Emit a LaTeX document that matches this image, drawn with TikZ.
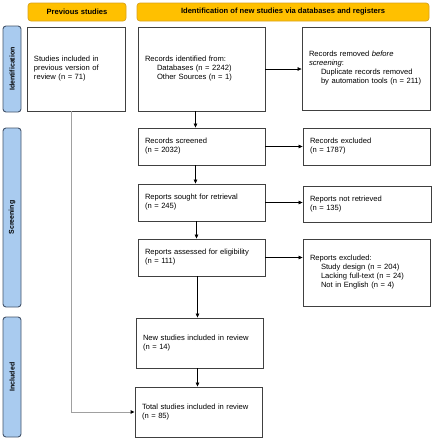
\documentclass[tikz,border=0pt]{standalone}
\usepackage{fontspec}
\setmainfont{Liberation Sans}
\usetikzlibrary{arrows.meta}

\definecolor{hdryellow}{HTML}{FFC000}
\definecolor{hdrline}{HTML}{D9A21B}
\definecolor{barblue}{HTML}{A9CBEF}
\definecolor{barline}{HTML}{44546A}
\definecolor{boxline}{HTML}{404040}
\definecolor{prevline}{HTML}{A0A0A0}

\tikzset{
    box/.style={draw=boxline, line width=0.9pt, fill=white, inner xsep=7pt,
        align=left, font=\fontsize{7.6}{9}\selectfont},
    header/.style={draw=hdrline, fill=hdryellow, rounded corners=3pt, line width=0.7pt,
        minimum height=18pt, font=\bfseries\fontsize{7.6}{9}\selectfont},
    phase/.style={draw=barline, fill=barblue, rounded corners=3pt, line width=0.9pt,
        minimum height=18pt, rotate=90, font=\bfseries\fontsize{7}{8}\selectfont},
    arr/.style={-{Triangle[length=4pt,width=3.6pt]}, line width=0.6pt, black},
}

\begin{document}
\begin{tikzpicture}[x=1pt, y=-1pt]
    %\draw[lightgray] (0, 0) grid[step=20] (436, 440);
    \useasboundingbox (0, 0) rectangle (436, 440);

    \node[header, minimum width=98pt] (hprev) at (77, 12) {Previous studies};
    \node[header, minimum width=292pt] (hnew) at (283, 12) {Identification of new studies via databases and registers};

    \node[phase, minimum width=86pt] (pident) at (12, 69) {Identification};
    \node[phase, minimum width=179pt] (pscreen) at (12, 217.5) {Screening};
    \node[phase, minimum width=120pt] (pincl) at (12, 377) {Included};

    \node[box, text width=84pt, minimum height=84pt] (prev) at (76, 69)
        {Studies included in\\previous version of\\review (n = 71)};
    \node[box, text width=113pt, minimum height=84pt] (ident) at (201.5, 69)
        {Records identified from:\\\hspace*{12pt}Databases (n = 2242)\\\hspace*{12pt}Other Sources (n = 1)};
    \node[box, text width=114pt, minimum height=83pt] (removed) at (366, 68.5)
        {Records removed \textit{before}\\\textit{screening}:\\\hspace*{12pt}Duplicate records removed\\\hspace*{12pt}by automation tools (n = 211)};
    \node[box, text width=113pt, minimum height=37pt] (screened) at (201.5, 146.5)
        {Records screened\\(n = 2032)};
    \node[box, text width=113pt, minimum height=37pt] (excluded) at (366.5, 146.5)
        {Records excluded\\(n = 1787)};
    \node[box, text width=113pt, minimum height=37pt] (sought) at (201.5, 202.5)
        {Reports sought for retrieval\\(n = 245)};
    \node[box, text width=114pt, minimum height=36pt] (notret) at (367, 204)
        {Reports not retrieved\\(n = 135)};
    \node[box, text width=113pt, minimum height=37pt] (assessed) at (201.5, 257.5)
        {Reports assessed for eligibility\\(n = 111)};
    \node[box, text width=113pt, minimum height=67pt] (repexcl) at (366.5, 272.5)
        {Reports excluded:\\\hspace*{11pt}Study design (n = 204)\\\hspace*{11pt}Lacking full-text (n = 24)\\\hspace*{11pt}Not in English (n = 4)};
    \node[box, text width=113pt, minimum height=50pt] (newinc) at (199.5, 343)
        {New studies included in review\\(n = 14)};
    \node[box, text width=113pt, minimum height=50pt] (total) at (198.5, 412)
        {Total studies included in review\\(n = 85)};

    \draw[arr] ([xshift=-6pt]ident.south) -- ([xshift=-6pt]ident.south |- screened.north);
    \draw[arr] ([xshift=-6pt]screened.south) -- ([xshift=-6pt]screened.south |- sought.north);
    \draw[arr] ([xshift=-5pt]sought.south) -- ([xshift=-5pt]sought.south |- assessed.north);
    \draw[arr] ([xshift=-4pt]assessed.south) -- ([xshift=-4pt]assessed.south |- newinc.north);
    \draw[arr] ([xshift=-2pt]newinc.south) -- ([xshift=-2pt]newinc.south |- total.north);
    \draw[arr] (ident.east) -- (ident.east -| removed.west);
    \draw[arr] (screened.east) -- (screened.east -| excluded.west);
    \draw[arr] (sought.east) -- (sought.east -| notret.west);
    \draw[arr] (assessed.east) -- (assessed.east -| repexcl.west);
    \draw[arr, draw=prevline, line width=0.9pt, -{Triangle[length=4pt,width=3.6pt,color=black]}]
        ([xshift=-5pt]prev.south) |- (total.west);
\end{tikzpicture}
\end{document}
